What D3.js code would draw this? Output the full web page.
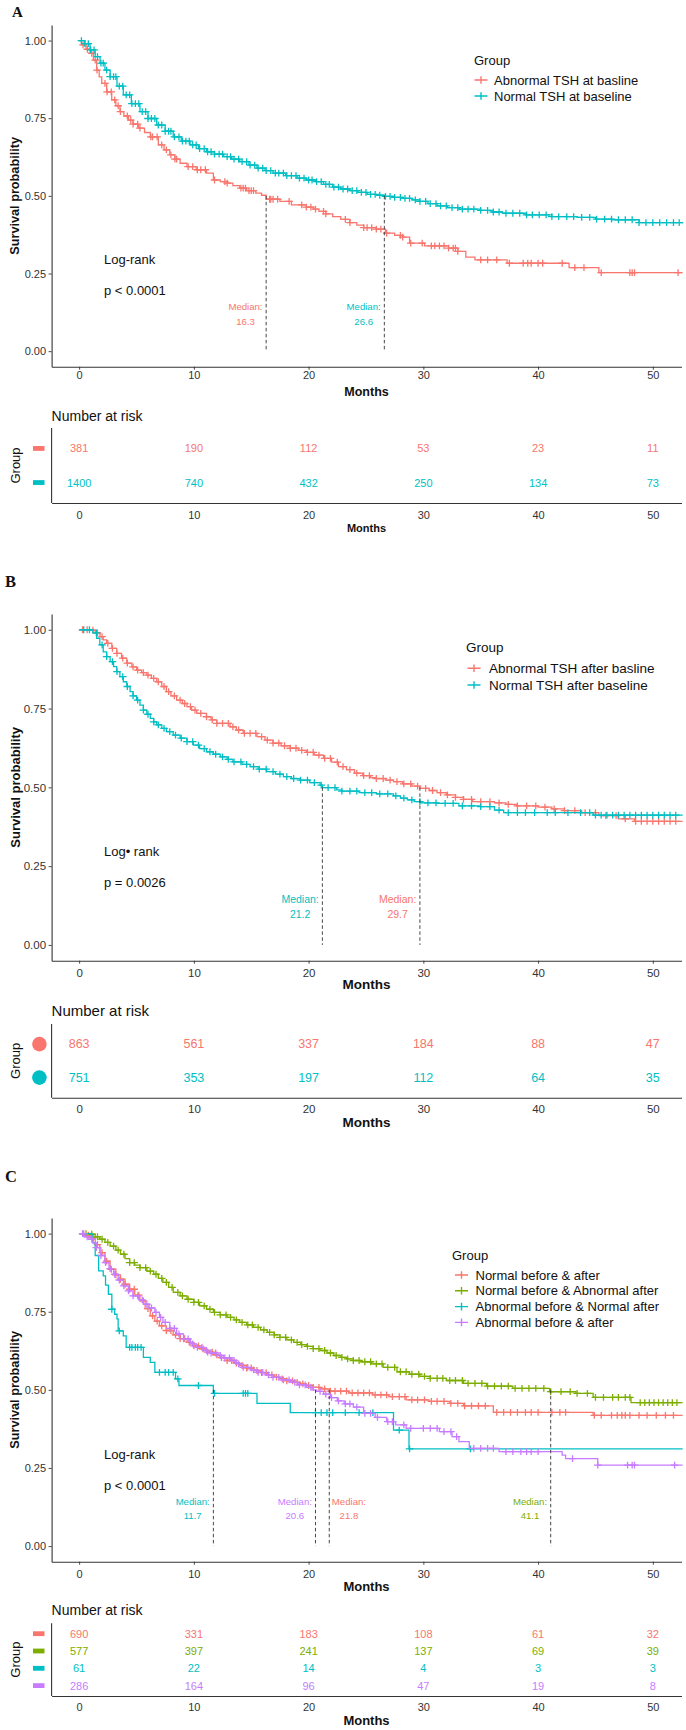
<!DOCTYPE html>
<html>
<head>
<meta charset="utf-8">
<script src="https://cdn.jsdelivr.net/npm/d3@7"></script>
<style>
body{margin:0;background:#fff}
svg{display:block}
text{font-family:"Liberation Sans",Arial,sans-serif}
</style>
</head>
<body>
<script>
var monthTicks=[0,10,20,30,40,50]
var survTicks=[0,0.25,0.5,0.75,1]
///////////////////////////////////////////////////////////////////
// panel A
var groupsA=["Abnormal TSH at basline","Normal TSH at baseline"]
var colorsA=["#F8766D","#00BFC4"]
var kmA1=[[0,1],[0.2,0.986],[0.6,0.972],[0.95,0.959],[1.24,0.937],[1.53,0.905],[1.75,0.883],[1.97,0.862],[2.4,0.835],[2.84,0.809],[3.2,0.79],[3.56,0.771],[3.9,0.757],[4.3,0.744],[4.7,0.731],[5.16,0.718],[5.7,0.704],[6.2,0.69],[6.9,0.664],[7.4,0.648],[7.9,0.632],[8.35,0.618],[8.8,0.605],[9.4,0.594],[10.2,0.584],[11.1,0.573],[11.7,0.551],[12.3,0.546],[12.9,0.541],[13.4,0.533],[14.0,0.525],[14.6,0.517],[15.4,0.509],[15.9,0.502],[16.3,0.489],[17.5,0.482],[18.5,0.471],[19.8,0.464],[20.4,0.457],[20.9,0.45],[21.5,0.442],[22.1,0.433],[22.8,0.424],[23.6,0.414],[24.2,0.406],[24.8,0.398],[25.9,0.393],[26.7,0.38],[27.5,0.373],[28.2,0.367],[28.8,0.348],[30.1,0.339],[32.2,0.332],[33.0,0.321],[33.7,0.303],[34.5,0.294],[37.3,0.283],[42.7,0.269],[45.3,0.253],[52.6,0.253]]
var kmA2=[[0,1],[0.5,0.99],[0.95,0.97],[1.4,0.948],[1.82,0.927],[2.25,0.905],[2.7,0.884],[3.3,0.853],[3.85,0.825],[4.55,0.797],[5.3,0.771],[6.0,0.749],[6.76,0.728],[7.5,0.708],[8.2,0.69],[8.9,0.676],[9.67,0.664],[10.4,0.652],[11.1,0.642],[11.8,0.634],[12.6,0.626],[13.3,0.618],[14.0,0.61],[14.8,0.599],[15.5,0.589],[16.2,0.581],[16.9,0.573],[18.0,0.565],[19.0,0.557],[19.8,0.551],[20.6,0.546],[21.3,0.537],[22.1,0.528],[22.8,0.522],[23.6,0.517],[24.3,0.511],[25.1,0.505],[25.9,0.502],[26.6,0.498],[27.4,0.495],[28.2,0.492],[29.0,0.487],[29.7,0.482],[30.4,0.475],[31.2,0.468],[32.1,0.462],[33.1,0.457],[35.0,0.453],[36.0,0.448],[36.9,0.444],[38.9,0.439],[41.2,0.433],[43.4,0.431],[45.0,0.425],[46.5,0.423],[48.8,0.414],[52.6,0.412]]
var censA1=[0.34,0.72,1.1,1.4,1.56,2.25,2.44,2.8,3.1,3.4,3.6,4.2,4.5,4.7,5.1,5.3,6.25,6.4,6.8,7.2,7.6,8.0,8.35,8.5,9.5,9.9,10.3,10.6,11.0,11.8,12.7,12.9,14.1,14.3,14.5,14.8,15.0,15.2,16.6,16.7,16.9,17.3,18.3,19.4,19.8,20.2,20.6,21.3,21.5,23.2,23.6,24.8,25.1,25.5,25.9,26.3,26.8,28.0,28.2,28.9,29.9,30.7,31.0,31.4,31.8,32.2,32.6,32.8,33.0,35.0,35.6,36.4,37.5,38.7,39.1,39.4,40.0,40.4,42.1,43.2,44.0,45.5,48.0,48.2,48.4,52.2]
var censA2=[0.2,0.5,0.8,1.0,1.3,1.6,1.9,2.1,2.4,2.7,3.0,3.2,3.5,3.8,4.1,4.4,4.6,4.9,5.2,5.5,5.8,6.0,6.3,6.6,6.9,7.2,7.5,7.8,8.0,8.3,8.7,9.0,9.3,9.6,9.9,10.2,10.5,10.9,11.2,11.5,11.8,12.2,12.5,12.9,13.2,13.5,13.9,14.2,14.6,14.9,15.3,15.6,16.0,16.3,16.7,17.1,17.4,17.8,18.1,18.5,18.9,19.2,19.6,20.0,20.3,20.7,21.1,21.5,21.8,22.2,22.6,23.0,23.4,23.8,24.2,24.6,25.0,25.4,25.8,26.2,26.7,27.1,27.5,28.0,28.4,28.8,29.3,29.7,30.2,30.6,31.1,31.5,32.0,32.5,33.0,33.4,33.9,34.4,35.0,35.6,36.1,36.6,37.2,37.8,38.4,39.0,39.5,40.1,40.7,41.2,41.8,42.5,43.1,43.8,44.5,45.1,45.8,46.4,47.0,47.6,48.2,48.8,49.4,50.0,50.6,51.2,51.8,52.3]
var riskA=[[381,190,112,53,23,11],[1400,740,432,250,134,73]]
var medianA=[16.3,26.6]
var testA=["Log-rank","p < 0.0001"]
///////////////////////////////////////////////////////////////////
// panel B
var groupsB=["Abnormal TSH after basline","Normal TSH after baseline"]
var colorsB=["#F8766D","#00BFC4"]
var kmB1=[[0,1],[0.95,0.999],[1.4,0.99],[1.82,0.978],[2.1,0.968],[2.4,0.957],[2.85,0.941],[3.28,0.925],[3.7,0.91],[4.15,0.894],[4.6,0.882],[5.0,0.872],[5.45,0.864],[5.9,0.856],[6.3,0.846],[6.76,0.835],[7.2,0.82],[7.6,0.804],[8.0,0.79],[8.5,0.777],[9.0,0.766],[9.4,0.756],[9.8,0.745],[10.25,0.735],[11.1,0.724],[11.5,0.714],[12.0,0.703],[13.15,0.692],[13.7,0.682],[14.3,0.671],[15.5,0.661],[16.2,0.65],[16.9,0.64],[17.6,0.632],[18.4,0.624],[19.1,0.617],[19.8,0.611],[20.5,0.602],[21.3,0.592],[22.0,0.58],[22.6,0.566],[23.3,0.556],[24.0,0.545],[24.7,0.537],[25.4,0.531],[25.9,0.528],[26.7,0.523],[27.4,0.518],[28.2,0.511],[29.0,0.504],[29.7,0.497],[30.5,0.49],[31.2,0.483],[32.0,0.476],[32.8,0.468],[33.5,0.462],[34.3,0.455],[36.2,0.451],[37.2,0.446],[38.1,0.441],[40.0,0.437],[41.2,0.432],[42.3,0.426],[43.8,0.42],[45.3,0.41],[47.0,0.4],[48.4,0.392],[52.6,0.392]]
var kmB2=[[0,1],[0.95,0.999],[1.2,0.99],[1.53,0.973],[1.8,0.952],[2.1,0.93],[2.4,0.915],[2.7,0.899],[3.0,0.883],[3.28,0.867],[3.55,0.851],[3.85,0.835],[4.15,0.82],[4.44,0.804],[4.7,0.79],[5.0,0.777],[5.3,0.761],[5.6,0.745],[5.9,0.732],[6.2,0.719],[6.5,0.708],[6.76,0.698],[7.2,0.687],[7.6,0.677],[8.2,0.666],[8.8,0.656],[9.4,0.645],[9.95,0.634],[10.5,0.623],[11.1,0.613],[11.7,0.605],[12.3,0.597],[12.9,0.589],[13.4,0.581],[14.2,0.573],[14.9,0.566],[15.6,0.558],[16.35,0.55],[17.1,0.542],[17.8,0.534],[18.5,0.528],[19.25,0.523],[20.1,0.515],[21.0,0.507],[21.2,0.499],[22.45,0.492],[22.9,0.488],[24.4,0.483],[25.9,0.479],[27.4,0.473],[28.0,0.466],[28.6,0.46],[29.2,0.455],[29.8,0.451],[31.2,0.449],[33.1,0.441],[35.0,0.439],[36.2,0.428],[37.0,0.42],[44.8,0.412],[52.6,0.412]]
var censB1=[0.3,0.7,1.2,1.6,2.0,2.5,2.9,3.3,3.8,4.2,4.7,5.1,5.6,6.0,6.5,6.9,7.4,7.8,8.3,8.8,9.2,9.7,10.1,10.6,11.1,11.6,12.0,12.5,13.0,13.4,13.9,14.4,14.9,15.4,15.9,16.4,16.9,17.4,17.9,18.4,18.9,19.4,19.9,20.4,20.9,21.4,21.9,22.5,23.0,23.6,24.2,24.8,25.3,25.9,26.5,27.1,27.7,28.3,28.9,29.5,30.2,30.8,31.5,32.1,32.8,33.5,34.2,35.0,35.8,36.6,37.4,38.2,39.0,39.8,40.6,41.4,42.3,43.2,44.1,45.0,45.9,46.8,47.6,48.5,49.0,49.5,50.0,50.5,51.0,51.5,52.0]
var censB2=[0.4,0.9,1.5,2.0,2.4,2.9,3.3,3.8,4.2,4.7,5.1,5.6,6.0,6.5,6.9,7.4,7.9,8.4,8.9,9.4,9.9,10.4,10.9,11.4,11.9,12.5,13.0,13.5,14.1,14.6,15.2,15.7,16.3,16.9,17.5,18.1,18.7,19.3,19.9,20.5,21.1,21.7,22.3,22.9,23.6,24.2,24.9,25.5,26.2,26.9,27.6,28.3,29.0,29.7,30.4,31.1,31.9,32.6,33.4,34.2,35.0,35.8,36.6,37.4,38.2,38.9,39.7,40.8,41.5,42.6,43.7,44.5,45.0,45.5,46.0,46.5,47.0,47.5,48.0,48.5,49.0,49.5,50.0,50.5,51.0,51.5,52.0]
var riskB=[[863,561,337,184,88,47],[751,353,197,112,64,35]]
var medianB=[29.7,21.2]
var testB=["Log\u2022 rank","p = 0.0026"]
///////////////////////////////////////////////////////////////////
// panel C
var groupsC=["Normal before & after","Normal before & Abnormal after","Abnormal before & Normal after","Abnormal before & after"]
var colorsC=["#F8766D","#7CAE00","#00BFC4","#C77CFF"]
var kmC1=[[0,1],[0.5,0.995],[0.95,0.987],[1.4,0.965],[1.8,0.939],[2.25,0.912],[2.7,0.886],[3.2,0.868],[3.6,0.854],[4.0,0.838],[4.4,0.822],[4.85,0.803],[5.3,0.785],[5.75,0.76],[6.2,0.737],[6.6,0.72],[7.0,0.705],[7.6,0.69],[8.2,0.676],[8.8,0.664],[9.4,0.652],[10.0,0.641],[10.5,0.631],[11.1,0.621],[11.7,0.612],[12.3,0.603],[12.9,0.594],[13.5,0.586],[14.0,0.578],[14.6,0.57],[15.2,0.562],[15.8,0.555],[16.4,0.548],[17.0,0.541],[17.5,0.535],[18.1,0.529],[18.7,0.524],[19.3,0.519],[19.8,0.514],[20.4,0.508],[21.0,0.503],[21.8,0.496],[23.5,0.49],[25.6,0.484],[27.0,0.478],[28.5,0.468],[30.5,0.463],[32.3,0.457],[33.5,0.449],[36.1,0.428],[44.8,0.418],[52.6,0.418]]
var kmC2=[[0,1],[0.95,0.998],[1.4,0.99],[1.8,0.982],[2.25,0.972],[2.7,0.96],[3.2,0.947],[3.6,0.934],[4.0,0.92],[4.4,0.907],[4.85,0.899],[5.3,0.891],[5.9,0.88],[6.5,0.87],[6.9,0.857],[7.3,0.844],[7.8,0.828],[8.2,0.812],[8.8,0.801],[9.4,0.79],[10.0,0.78],[10.5,0.769],[11.1,0.758],[11.7,0.748],[12.3,0.74],[12.9,0.732],[13.5,0.724],[14.0,0.716],[14.6,0.708],[15.2,0.7],[15.8,0.692],[16.4,0.684],[17.0,0.676],[17.5,0.668],[18.1,0.66],[18.7,0.652],[19.3,0.645],[19.8,0.639],[20.4,0.632],[21.0,0.626],[21.6,0.618],[22.2,0.61],[22.8,0.604],[23.3,0.599],[23.9,0.594],[24.5,0.59],[25.5,0.583],[26.5,0.572],[27.7,0.558],[28.8,0.55],[29.7,0.543],[30.6,0.537],[32.0,0.53],[33.5,0.521],[35.5,0.512],[37.8,0.505],[41.0,0.494],[43.3,0.489],[44.8,0.476],[48.1,0.459],[52.6,0.459]]
var kmC3=[[0,1],[1.1,0.998],[1.2,0.971],[1.4,0.93],[1.7,0.881],[2.1,0.865],[2.3,0.835],[2.55,0.806],[2.85,0.758],[3.1,0.742],[3.3,0.727],[3.4,0.689],[3.85,0.673],[4.1,0.636],[5.3,0.636],[5.6,0.604],[6.2,0.588],[6.6,0.556],[8.1,0.556],[8.4,0.535],[8.7,0.514],[11.7,0.489],[15.5,0.457],[18.4,0.427],[27.4,0.371],[28.75,0.311],[52.6,0.311]]
var kmC4=[[0,1],[0.5,0.99],[0.95,0.982],[1.2,0.97],[1.5,0.955],[1.9,0.93],[2.25,0.907],[2.6,0.888],[3.0,0.87],[3.4,0.851],[3.85,0.833],[4.3,0.817],[4.7,0.801],[5.2,0.788],[5.6,0.774],[6.1,0.762],[6.6,0.748],[7.0,0.732],[7.3,0.716],[7.9,0.697],[8.5,0.679],[9.1,0.663],[9.7,0.647],[10.2,0.636],[10.8,0.626],[11.4,0.618],[12.0,0.61],[12.6,0.602],[13.2,0.594],[13.7,0.583],[14.3,0.572],[14.9,0.564],[15.5,0.556],[16.2,0.548],[16.9,0.54],[17.6,0.532],[18.4,0.524],[19.1,0.516],[19.8,0.508],[20.3,0.5],[20.7,0.495],[21.3,0.486],[21.9,0.475],[22.5,0.465],[23.1,0.455],[23.9,0.445],[24.8,0.425],[25.8,0.412],[26.8,0.398],[27.6,0.388],[28.5,0.377],[31.4,0.366],[32.5,0.35],[33.1,0.334],[34.0,0.313],[36.6,0.302],[42.1,0.291],[42.4,0.28],[45.2,0.259],[52.6,0.259]]
var censC1=[0.4,0.8,1.2,1.6,2.0,2.4,2.8,3.2,3.6,4.0,4.4,4.8,5.2,5.6,6.0,6.4,6.8,7.2,7.6,8.0,8.4,8.8,9.2,9.6,10.0,10.4,10.8,11.2,11.6,12.0,12.4,12.9,13.3,13.7,14.2,14.6,15.0,15.5,15.9,16.3,16.8,17.2,17.7,18.1,18.6,19.0,19.5,20.0,20.4,20.9,21.4,21.9,22.3,22.8,23.3,23.8,24.3,24.8,25.3,25.8,26.3,26.8,27.3,27.9,28.4,29.0,29.5,30.1,30.7,31.2,31.8,32.4,33.0,33.6,34.2,34.8,35.4,36.4,37.0,37.6,38.2,38.9,39.4,40.0,41.2,41.9,42.4,44.9,45.5,46.4,46.9,47.3,47.6,48.0,48.8,49.5,50.3,51.1,51.8]
var censC2=[0.6,1.1,1.6,2.0,2.5,3.0,3.4,3.9,4.4,4.8,5.3,5.8,6.2,6.7,7.2,7.6,8.1,8.6,9.0,9.5,10.0,10.4,10.9,11.4,11.8,12.3,12.8,13.2,13.7,14.2,14.7,15.1,15.6,16.1,16.6,17.0,17.5,18.0,18.5,19.0,19.4,19.9,20.4,20.9,21.4,21.9,22.4,22.9,23.4,23.9,24.4,24.9,25.4,25.9,26.4,26.9,27.5,28.0,28.5,29.0,29.6,30.1,30.6,31.2,31.7,32.3,32.8,33.4,33.9,34.5,35.1,35.6,36.2,36.8,37.4,38.0,38.6,39.2,39.8,40.5,41.1,42.0,42.8,43.4,44.3,45.0,45.7,46.5,47.0,47.6,48.0,48.9,49.3,49.7,50.1,50.5,50.9,51.3,51.7,52.1]
var censC3=[2.85,3.5,4.4,4.6,4.9,5.1,5.4,7.0,7.5,7.8,8.2,8.6,10.4,11.8,14.3,14.5,14.7,20.6,21.1,21.6,22.1,23.2,24.4,25.6,27.9,28.8,34.1]
var censC4=[0.3,0.7,1.1,1.5,1.9,2.3,2.7,3.1,3.5,3.9,4.3,4.7,5.1,5.5,5.9,6.3,6.7,7.1,7.5,7.9,8.3,8.7,9.1,9.5,9.9,10.3,10.7,11.1,11.5,11.9,12.3,12.7,13.1,13.5,13.9,14.3,14.7,15.2,15.6,16.0,16.5,16.9,17.4,17.8,18.3,18.8,19.2,19.7,20.2,21.0,21.5,22.0,22.6,23.2,23.6,24.2,24.9,25.4,26.0,26.9,27.3,28.3,28.9,30.0,30.6,31.2,31.8,32.4,32.9,34.4,35.0,35.6,36.1,37.2,37.8,38.5,39.0,39.4,40.0,43.0,45.2,47.8,48.2,48.4,51.9]
var riskC=[[690,331,183,108,61,32],[577,397,241,137,69,39],[61,22,14,4,3,3],[286,164,96,47,19,8]]
var medianC=[21.8,41.1,11.7,20.6]
var testC=["Log-rank","p < 0.0001"]
///////////////////////////////////////////////////////////////////
var W=686,H=1730;
var svg=d3.select("body").append("svg").attr("width",W).attr("height",H);
svg.append("rect").attr("width",W).attr("height",H).attr("fill","#fff");
var x=d3.scaleLinear().domain([-2.4,52.5]).range([51.6,681.5]);
var bis=d3.bisector(function(d){return d[0];}).right;
var survAt=function(curve,t){
  var i=bis(curve,t)-1;
  return curve[Math.max(i,0)][1];
}
var AX="#333";

var styleAxis=function(sel,fs){
  sel.select(".domain").attr("stroke",AX).attr("stroke-width",1.1);
  sel.selectAll(".tick line").attr("stroke",AX).attr("stroke-width",0.9);
  sel.selectAll(".tick text").attr("fill","#333").style("font-size",fs+"px")
     .style("font-family","'Liberation Sans',Arial,sans-serif");
}

var drawPanel=function(c){
  var g=svg.append("g");
  var y=d3.scaleLinear().domain([-0.05,1.05]).range([c.bottom,c.top]);

  g.append("text").attr("x",c.letterX).attr("y",c.letterY).text(c.letter)
   .style("font-family","'Liberation Serif','Times New Roman',serif")
   .style("font-weight","bold").style("font-size",c.letterSize+"px").attr("fill","#111");

  // clip for the curves
  var cid="clip"+c.letter;
  g.append("clipPath").attr("id",cid).append("rect")
   .attr("x",51.6).attr("y",c.top).attr("width",W-51.6).attr("height",c.bottom-c.top);

  var yAx=g.append("g").attr("transform","translate(51.6,0)")
   .call(d3.axisLeft(y).tickValues(survTicks).tickFormat(d3.format(".2f")).tickSize(3).tickSizeOuter(0).tickPadding(2.5));
  styleAxis(yAx,c.tickFs);
  var xAx=g.append("g").attr("transform","translate(0,"+c.bottom+")")
   .call(d3.axisBottom(x).tickValues(monthTicks).tickSize(3).tickSizeOuter(0).tickPadding(c.xPad));
  styleAxis(xAx,c.tickFs);

  g.append("text").attr("transform","translate(15,"+((c.top+c.bottom)/2)+") rotate(-90)")
   .attr("text-anchor","middle").attr("dominant-baseline","central")
   .style("font-weight","bold").style("font-size",c.titleFs+"px").attr("fill","#111")
   .text("Survival probability");
  g.append("text").attr("x",366.5).attr("y",c.monthsY).attr("text-anchor","middle")
   .attr("dominant-baseline","central").style("font-weight","bold")
   .style("font-size",c.monthsFs+"px").attr("fill","#111").text("Months");

  // curves
  var line=d3.line().x(function(d){return x(d[0]);}).y(function(d){return y(d[1]);}).curve(d3.curveStepAfter);
  var cg=g.append("g").attr("clip-path","url(#"+cid+")");
  c.curves.forEach(function(cu,i){
    cg.append("path").attr("d",line(cu)).attr("fill","none")
      .attr("stroke",c.colors[i]).attr("stroke-width",1.3);
    cg.selectAll(null).data(c.cens[i]).enter().append("path")
      .attr("transform",function(t){return "translate("+x(t)+","+y(survAt(cu,t))+")";})
      .attr("d","M-3.8,0H3.8M0,-3.4V3.4")
      .attr("stroke",c.colors[i]).attr("stroke-width",1.3).attr("fill","none");
  });

  // median lines and labels
  c.medians.forEach(function(m,i){
    var mx=x(m);
    g.append("line").attr("x1",mx).attr("x2",mx).attr("y1",y(0.5)).attr("y2",y(0))
     .attr("stroke","#333").attr("stroke-width",0.9).attr("stroke-dasharray","3.5,2.5");
    var t1=g.append("text").attr("y",c.medY[0]).attr("dominant-baseline","central")
     .style("font-size",c.medFs+"px").attr("fill",c.colors[i]).text("Median:");
    var w=t1.node().getComputedTextLength();
    var cx=c.medSide[i]=="right" ? mx+2.6+w/2 : mx-3.6-w/2;
    t1.attr("x",cx).attr("text-anchor","middle");
    g.append("text").attr("x",cx).attr("y",c.medY[1]).attr("text-anchor","middle")
     .attr("dominant-baseline","central").style("font-size",c.medFs+"px")
     .attr("fill",c.colors[i]).text(d3.format(".1f")(m));
  });

  // log-rank
  c.test.forEach(function(s,i){
    g.append("text").attr("x",104).attr("y",c.testY[i]).attr("dominant-baseline","central")
     .style("font-size","13px").attr("fill","#111").text(s);
  });

  // legend
  var lg=g.append("g");
  lg.append("text").attr("x",c.leg.x).attr("y",c.leg.titleY).attr("dominant-baseline","central")
    .style("font-size",c.leg.fs+"px").attr("fill","#111").text("Group");
  c.groups.forEach(function(name,i){
    var yy=c.leg.itemY+i*c.leg.dy;
    lg.append("path").attr("transform","translate("+c.leg.symX+","+yy+")")
      .attr("d","M-6.5,0H6.5M0,-3.8V3.8").attr("stroke",c.colors[i]).attr("stroke-width",1.4);
    lg.append("text").attr("x",c.leg.textX).attr("y",yy).attr("dominant-baseline","central")
      .style("font-size",c.leg.fs+"px").attr("fill","#111").text(name);
  });

  // risk table
  var r=c.risk;
  g.append("text").attr("x",51.6).attr("y",r.titleY).attr("dominant-baseline","central")
   .style("font-size",r.titleFs+"px").attr("fill","#111").text("Number at risk");
  var ry=d3.scalePoint().domain(c.groups).range([r.top,r.bottom]).padding(0.6);
  g.append("line").attr("x1",51.6).attr("x2",51.6).attr("y1",r.top).attr("y2",r.bottom)
   .attr("stroke",AX).attr("stroke-width",1.1);
  var rx=g.append("g").attr("transform","translate(0,"+r.bottom+")")
   .call(d3.axisBottom(x).tickValues(monthTicks).tickSize(0).tickSizeOuter(0).tickPadding(r.xPad));
  styleAxis(rx,c.tickFs);
  g.append("text").attr("x",366.5).attr("y",r.monthsY).attr("text-anchor","middle")
   .attr("dominant-baseline","central").style("font-weight","bold")
   .style("font-size",r.monthsFs+"px").attr("fill","#111").text("Months");
  g.append("text").attr("transform","translate(15,"+((r.top+r.bottom)/2)+") rotate(-90)")
   .attr("text-anchor","middle").attr("dominant-baseline","central")
   .style("font-size","13px").attr("fill","#111").text("Group");
  c.risks.forEach(function(row,i){
    var yy=ry(c.groups[i]);
    g.selectAll(null).data(row).enter().append("text")
     .attr("x",function(d,j){return x(monthTicks[j]);}).attr("y",yy)
     .attr("text-anchor","middle").attr("dominant-baseline","central")
     .style("font-size",r.fs+"px").attr("fill",c.colors[i]).text(function(d){return d;});
    if(r.marker=="circle"){
      g.append("circle").attr("cx",39.4).attr("cy",yy).attr("r",7.3).attr("fill",c.colors[i]);
    } else {
      g.append("rect").attr("x",33).attr("y",yy-2.4).attr("width",11.5).attr("height",4.8).attr("fill",c.colors[i]);
    }
  });
}
///////////////////////////////////////////////////////////////////
drawPanel({letter:"A",letterX:12,letterY:17,letterSize:15,top:25,bottom:366.7,tickFs:11,xPad:1.5,titleFs:12.7,
  monthsY:392,monthsFs:12.5,groups:groupsA,colors:colorsA,curves:[kmA1,kmA2],cens:[censA1,censA2],
  medians:medianA,medSide:["left","left"],medY:[306,321],medFs:9.6,test:testA,testY:[259,290],
  leg:{x:474,titleY:60,itemY:80,dy:16,symX:481,textX:494,fs:13},
  risks:riskA,risk:{titleY:416,titleFs:14,top:428,bottom:503,xPad:8,monthsY:527.7,monthsFs:11,fs:11,marker:"rect"}});
drawPanel({letter:"B",letterX:5,letterY:586.5,letterSize:16.5,top:614,bottom:960.7,tickFs:11.5,xPad:5.5,titleFs:13,
  monthsY:984.3,monthsFs:13.5,groups:groupsB,colors:colorsB,curves:[kmB1,kmB2],cens:[censB1,censB2],
  medians:medianB,medSide:["left","left"],medY:[899,914],medFs:10.5,test:testB,testY:[851,882.7],
  leg:{x:466,titleY:647,itemY:668.3,dy:16.7,symX:474,textX:489,fs:13.5},
  risks:riskB,risk:{titleY:1010,titleFs:15,top:1024,bottom:1097.7,xPad:7.5,monthsY:1122.3,monthsFs:13.5,fs:12.5,marker:"circle"}});
drawPanel({letter:"C",letterX:5,letterY:1181.7,letterSize:16.5,top:1218,bottom:1561.7,tickFs:11,xPad:6,titleFs:12.7,
  monthsY:1586.7,monthsFs:13,groups:groupsC,colors:colorsC,curves:[kmC1,kmC2,kmC3,kmC4],cens:[censC1,censC2,censC3,censC4],
  medians:medianC,medSide:["right","left","left","left"],medY:[1501,1515.7],medFs:9.6,test:testC,testY:[1454.3,1485],
  leg:{x:452,titleY:1255,itemY:1275,dy:15.8,symX:461.5,textX:475.5,fs:13},
  risks:riskC,risk:{titleY:1610,titleFs:14,top:1623.3,bottom:1696,xPad:7.5,monthsY:1720.7,monthsFs:13,fs:11,marker:"rect"}});
</script>
</body>
</html>
